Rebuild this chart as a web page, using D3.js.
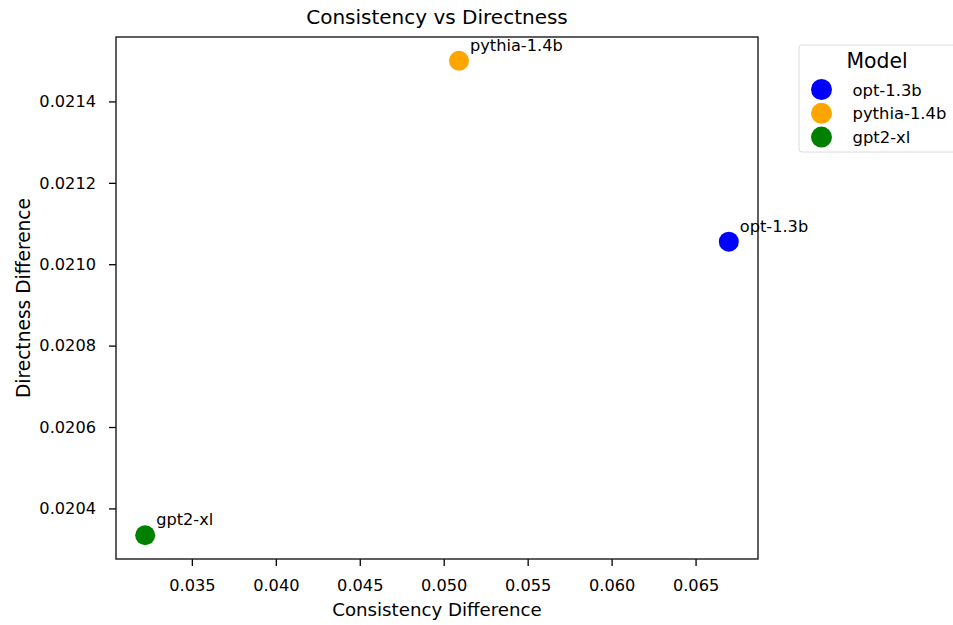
<!DOCTYPE html>
<html>
<head>
<meta charset="utf-8">
<script src="https://cdn.jsdelivr.net/npm/d3@7"></script>
<style>
body { margin: 0; background: #fff; }
text { font-family: "DejaVu Sans", sans-serif; fill: #000; }
.axis path, .axis line { stroke: #000; stroke-width: 1.3; }
</style>
</head>
<body>
<div id="container"></div>
<script>
const WIDTH = 953;
const HEIGHT = 625;
const MARGIN = {left: 116, right: 195, top: 37, bottom: 66};
const INNER_WIDTH = WIDTH - MARGIN.left - MARGIN.right;
const INNER_HEIGHT = HEIGHT - MARGIN.top - MARGIN.bottom;

var MODELS = ["opt-1.3b", "pythia-1.4b", "gpt2-xl"];
var CONSISTENCY = [0.06698, 0.05091, 0.03222];
var DIRECTNESS = [0.0210555, 0.0215, 0.020334];
var COLORS = ["#0000ff", "#ffa500", "#008000"];
var X_TICKS = [0.035, 0.040, 0.045, 0.050, 0.055, 0.060, 0.065];
var Y_TICKS = [0.0204, 0.0206, 0.0208, 0.0210, 0.0212, 0.0214];

var translate = function (x, y) {
    return "translate(" + x + "," + y + ")";
};

// matplotlib-like 5% margin around the data
var padded = function (values) {
    var lo = d3.min(values), hi = d3.max(values);
    var pad = (hi - lo) * 0.05;
    return [lo - pad, hi + pad];
};

var XScale = d3.scaleLinear()
    .domain(padded(CONSISTENCY))
    .range([0, INNER_WIDTH]);

var YScale = d3.scaleLinear()
    .domain(padded(DIRECTNESS))
    .range([INNER_HEIGHT, 0]);

var DATA = MODELS.map(function (m, i) {
    return {name: m, x: CONSISTENCY[i], y: DIRECTNESS[i], color: COLORS[i]};
});

var svg = d3.select("#container").append("svg")
    .attr("width", WIDTH)
    .attr("height", HEIGHT);

var g = svg.append("g").attr("transform", translate(MARGIN.left, MARGIN.top));

var xAxis = g.append("g")
    .classed("axis", true)
    .attr("transform", translate(0, INNER_HEIGHT))
    .call(d3.axisBottom(XScale).tickValues(X_TICKS).tickFormat(d3.format(".3f")).tickSizeOuter(0).tickSize(7).tickPadding(13));
xAxis.selectAll("text").style("font-size", "16.2px");
xAxis.select(".domain").remove();

var yAxis = g.append("g")
    .classed("axis", true)
    .call(d3.axisLeft(YScale).tickValues(Y_TICKS).tickFormat(d3.format(".4f")).tickSizeOuter(0).tickSize(7).tickPadding(13));
yAxis.selectAll("text").style("font-size", "16.2px");
yAxis.select(".domain").remove();

// frame
g.append("rect")
    .attr("width", INNER_WIDTH)
    .attr("height", INNER_HEIGHT)
    .attr("fill", "none")
    .attr("stroke", "#1a1a1a")
    .attr("stroke-width", 1.4);

g.selectAll("circle.pt").data(DATA)
    .enter().append("circle")
    .attr("class", "pt")
    .attr("cx", function (d) { return XScale(d.x); })
    .attr("cy", function (d) { return YScale(d.y); })
    .attr("r", 10)
    .attr("fill", function (d) { return d.color; });

g.selectAll("text.lbl").data(DATA)
    .enter().append("text")
    .attr("class", "lbl")
    .attr("x", function (d) { return XScale(d.x) + 11; })
    .attr("y", function (d) { return YScale(d.y) - 10; })
    .style("font-size", "16.2px")
    .text(function (d) { return d.name; });

svg.append("text")
    .attr("x", MARGIN.left + INNER_WIDTH / 2)
    .attr("y", 24)
    .attr("text-anchor", "middle")
    .style("font-size", "20px")
    .text("Consistency vs Directness");

svg.append("text")
    .attr("x", MARGIN.left + INNER_WIDTH / 2)
    .attr("y", 616)
    .attr("text-anchor", "middle")
    .style("font-size", "18.2px")
    .text("Consistency Difference");

svg.append("text")
    .attr("transform", translate(30, MARGIN.top + INNER_HEIGHT / 2) + " rotate(-90)")
    .attr("text-anchor", "middle")
    .style("font-size", "18.6px")
    .text("Directness Difference");

// legend
var legend = svg.append("g").attr("transform", translate(799, 45));
legend.append("rect")
    .attr("width", 170)
    .attr("height", 107)
    .attr("rx", 3)
    .attr("fill", "#fff")
    .attr("stroke", "#dcdcdc");
legend.append("text")
    .attr("x", 78)
    .attr("y", 23)
    .attr("text-anchor", "middle")
    .style("font-size", "20.4px")
    .text("Model");
var items = legend.selectAll("g.item").data(DATA)
    .enter().append("g")
    .attr("class", "item")
    .attr("transform", function (d, i) { return translate(0, 44.5 + i * 23.8); });
items.append("circle")
    .attr("cx", 22.5)
    .attr("cy", 0)
    .attr("r", 10.5)
    .attr("fill", function (d) { return d.color; });
items.append("text")
    .attr("x", 53.5)
    .attr("y", 6)
    .style("font-size", "16.4px")
    .text(function (d) { return d.name; });
</script>
</body>
</html>
